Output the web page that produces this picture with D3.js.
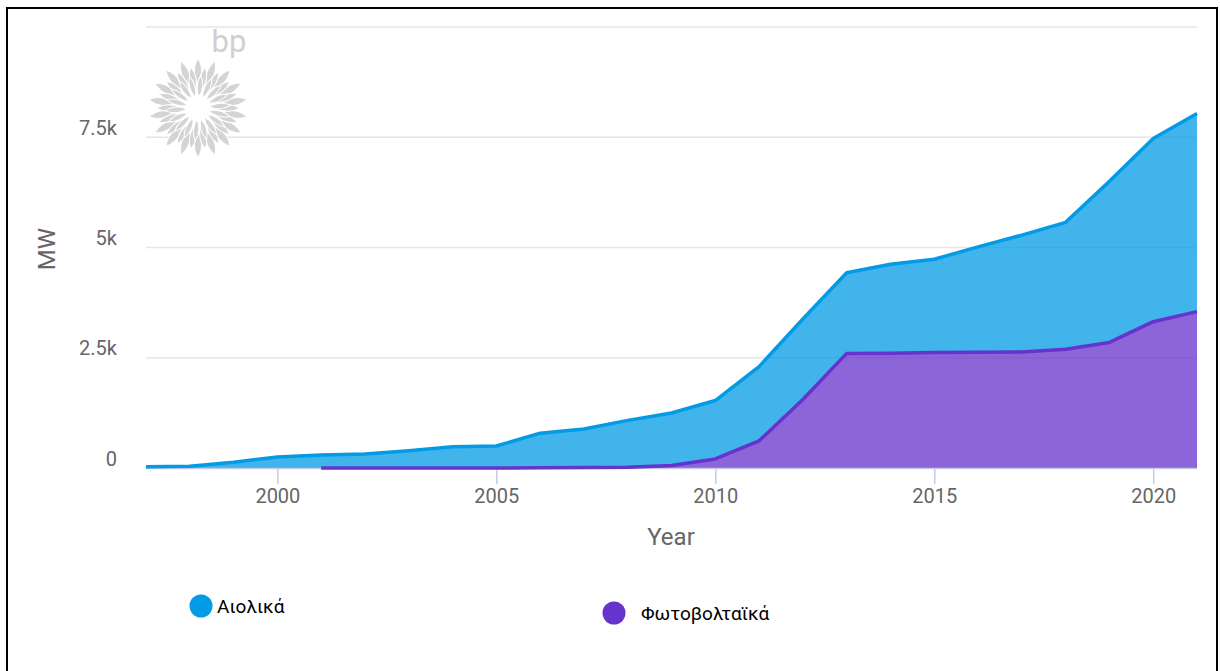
<!DOCTYPE html>
<html>
<head>
<meta charset="utf-8">
<script src="https://cdn.jsdelivr.net/npm/d3@7"></script>
<style>
  html, body { margin: 0; padding: 0; background: #fff; }
  svg { display: block; }
  text { font-family: Roboto, "Noto Sans", sans-serif; }
</style>
</head>
<body>
<svg id="chart" width="1220" height="671"></svg>
<script>
// Installed capacity in Greece (MW), by year
const years = [1997, 1998, 1999, 2000, 2001, 2002, 2003, 2004, 2005, 2006, 2007, 2008, 2009,
               2010, 2011, 2012, 2013, 2014, 2015, 2016, 2017, 2018, 2019, 2020, 2021];
const windMW = [29, 39, 130, 250, 296, 318, 392, 483, 497, 785, 874, 1062, 1193,
                1325, 1683, 1826, 1830, 2016, 2115, 2390, 2648, 2877, 3653, 4155, 4491];
// solar starts in 2001
const solarMW = [null, null, null, null, 1, 1, 1, 1, 1, 5, 9, 18, 55,
                 205, 616, 1553, 2599, 2603, 2618, 2625, 2633, 2694, 2847, 3318, 3546];
const seriesNames = ["Αιολικά", "Φωτοβολταϊκά"];
const seriesColors = ["#039be5", "#6633cc"];
const yTickValues = [0, 2500, 5000, 7500];
const yGridValues = [0, 2500, 5000, 7500, 10000];
const xTickValues = [2000, 2005, 2010, 2015, 2020];

const svg = d3.select("#chart");

// frame
svg.append("rect").attr("x", 7).attr("y", 8).attr("width", 1210).attr("height", 680)
  .attr("fill", "none").attr("stroke", "#000").attr("stroke-width", 2);

const plot = { left: 146, right: 1197, top: 27, bottom: 468 };
const x = d3.scaleLinear().domain([1997, 2021]).range([plot.left, plot.right]);
const y = d3.scaleLinear().domain([0, 10000]).range([plot.bottom, plot.top]);

// gridlines
svg.append("g").selectAll("line").data(yGridValues).join("line")
  .attr("x1", plot.left).attr("x2", plot.right)
  .attr("y1", d => y(d)).attr("y2", d => y(d))
  .attr("stroke", "#e6e6e6").attr("stroke-width", 1.5);

// bp logo (decorative)
const logo = svg.append("g").attr("transform", "translate(198,108)");
const rings = [
  { r0: 24, r1: 50, w: 7.5, n: 18, rot: 0 },
  { r0: 17, r1: 42, w: 6.5, n: 18, rot: 10 },
  { r0: 11, r1: 33, w: 5.5, n: 18, rot: 5 }
];
rings.forEach(ring => {
  const petal = `M${ring.r0},0 Q${(ring.r0 + ring.r1) / 2},${ring.w} ${ring.r1},0 Q${(ring.r0 + ring.r1) / 2},${-ring.w} ${ring.r0},0Z`;
  logo.append("g").selectAll("path").data(d3.range(ring.n)).join("path")
    .attr("d", petal)
    .attr("transform", i => `rotate(${ring.rot + i * 360 / ring.n - 90})`)
    .attr("fill", "#d4d4d4").attr("stroke", "#fff").attr("stroke-width", 1);
});
logo.append("circle").attr("r", 11).attr("fill", "#fff");
svg.append("text").attr("x", 229).attr("y", 52).attr("text-anchor", "middle")
  .attr("font-size", 31).attr("fill", "#d0d0d0").text("bp");

// stacked areas: solar at the bottom, wind above
const rows = years.map((yr, i) => ({ year: yr, wind: windMW[i], solar: solarMW[i] }));
const stack = d3.stack().keys(["solar", "wind"]).value((d, k) => d[k] || 0);
const stacked = stack(rows);
const solarLayer = stacked[0];
const windLayer = stacked[1];

const area = d3.area().x(d => x(d.data.year)).y0(d => y(d[0])).y1(d => y(d[1]));
const topLine = d3.line().x(d => x(d.data.year)).y(d => y(d[1]));

svg.append("path").datum(windLayer).attr("d", area)
  .attr("fill", seriesColors[0]).attr("fill-opacity", 0.75);
svg.append("path").datum(solarLayer.filter(d => d.data.solar !== null)).attr("d", area)
  .attr("fill", seriesColors[1]).attr("fill-opacity", 0.75);

// x axis baseline and ticks
const xAxis = svg.append("g").attr("transform", `translate(0,${plot.bottom})`)
  .call(d3.axisBottom(x).tickValues(xTickValues).tickFormat(d3.format("d")).tickSize(16).tickPadding(5));
xAxis.select(".domain").remove();
xAxis.selectAll(".tick line").attr("stroke", "#c5cae9").attr("stroke-width", 1.5);
xAxis.selectAll(".tick text").attr("font-size", 20).attr("fill", "#666")
  .attr("font-family", "Roboto, sans-serif");
svg.append("line").attr("x1", plot.left).attr("x2", plot.right)
  .attr("y1", plot.bottom + 0.5).attr("y2", plot.bottom + 0.5)
  .attr("stroke", "#c5cae9").attr("stroke-width", 1.5);

// series lines
svg.append("path").datum(solarLayer.filter(d => d.data.solar !== null)).attr("d", topLine)
  .attr("fill", "none").attr("stroke", seriesColors[1]).attr("stroke-width", 3.5)
  .attr("stroke-linejoin", "round");
svg.append("path").datum(windLayer).attr("d", topLine)
  .attr("fill", "none").attr("stroke", seriesColors[0]).attr("stroke-width", 3.5)
  .attr("stroke-linejoin", "round");

// y axis labels
const fmt = v => v === 0 ? "0" : (v / 1000) + "k";
const yAxis = svg.append("g").attr("transform", `translate(${plot.left - 29},0)`)
  .call(d3.axisLeft(y).tickValues(yTickValues).tickFormat(fmt).tickSize(0).tickPadding(0));
yAxis.select(".domain").remove();
yAxis.selectAll(".tick text").attr("font-size", 20).attr("fill", "#666")
  .attr("font-family", "Roboto, sans-serif").attr("dy", "-0.15em");

// axis titles
svg.append("text").attr("transform", "translate(55,249) rotate(-90)")
  .attr("text-anchor", "middle").attr("font-size", 24).attr("fill", "#666").text("MW");
svg.append("text").attr("x", 671).attr("y", 545).attr("text-anchor", "middle")
  .attr("font-size", 24).attr("fill", "#666").text("Year");

// legend
const legendPos = [{ cx: 201, cy: 606, tx: 16 }, { cx: 614, cy: 613, tx: 27 }];
const legend = svg.append("g").selectAll("g").data(seriesNames).join("g")
  .attr("transform", (d, i) => `translate(${legendPos[i].cx},${legendPos[i].cy})`);
legend.append("circle").attr("r", 11.5).attr("fill", (d, i) => seriesColors[i]);
legend.append("text").attr("x", (d, i) => legendPos[i].tx).attr("y", 7).attr("font-size", 19)
  .attr("font-family", "'DejaVu Sans', sans-serif").attr("fill", "#000").text(d => d);
</script>
</body>
</html>
